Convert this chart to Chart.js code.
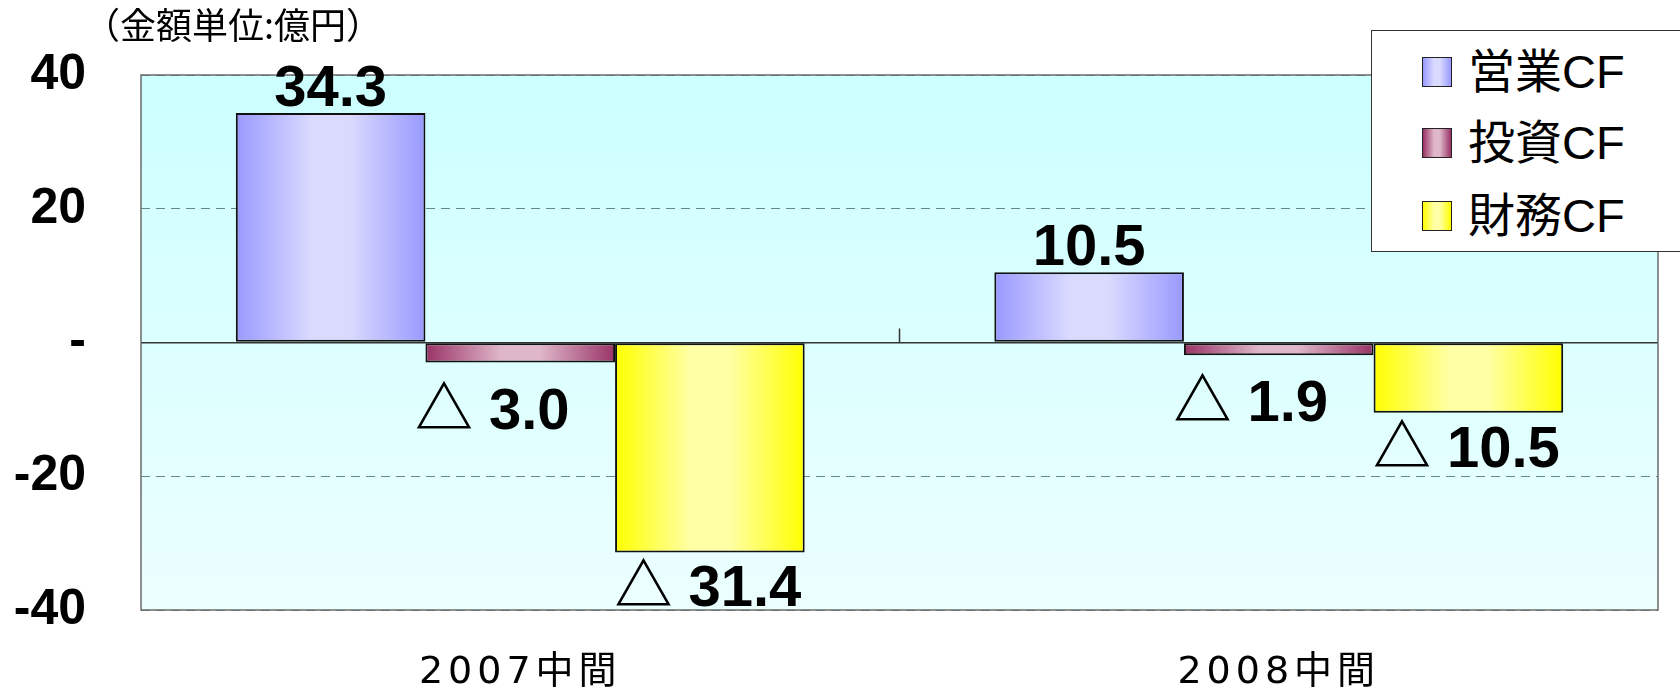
<!DOCTYPE html>
<html lang="ja">
<head>
<meta charset="utf-8">
<script src="https://cdn.jsdelivr.net/npm/chart.js@4.4.1/dist/chart.umd.min.js"></script>
<style>
  body { margin: 0; background: #fff; }
  #wrap { position: relative; width: 1680px; height: 691px; overflow: hidden; }
  #unit { position: absolute; left: 84px; top: 5px; font: 36px/1 'Noto Sans CJK JP', sans-serif; color: #000; white-space: nowrap; }
  #legend { position: absolute; left: 1371px; top: 30px; width: 340px; height: 222px; box-sizing: border-box;
            border: 1.5px solid #333; background: #fff; }
  .item { position: absolute; left: 50px; height: 44px; display: flex; align-items: center;
          font: 47px/1 'Liberation Sans', Arial, 'Noto Sans CJK JP', sans-serif; color: #000; white-space: nowrap; }
  .sw { width: 28px; height: 28px; border: 1.5px solid #222; margin-right: 16px; }
</style>
</head>
<body>
<div id="wrap">
  <canvas id="cfChart"></canvas>
  <div id="unit">（金額単位:億円）</div>
  <div id="legend"></div>
</div>
<script>
// data
const categories = ['2007中間', '2008中間'];
const seriesNames = ['営業CF', '投資CF', '財務CF'];
const operatingCF = [34.3, 10.5];
const investingCF = [-3.0, -1.9];
const financingCF = [-31.4, -10.5];
const yTicks = [40, 20, 0, -20, -40];

// styles
const edgeColors = ['#9999ff', '#993366', '#ffff00'];
const lightColors = ['#dadaff', '#dfb7ca', '#ffffa6'];
const CAT_PCT = 0.75;

// horizontal gradient over each bar, computed from the x scale
function barFill(di) {
  return (c) => {
    const chart = c.chart;
    const x = chart.scales.x;
    if (!x || c.dataIndex === undefined) return edgeColors[di];
    const catW = x.width / categories.length;
    const groupW = catW * CAT_PCT;
    const barW = groupW / 3;
    const left = x.getPixelForValue(c.dataIndex) - groupW / 2 + di * barW;
    if (!isFinite(left) || !isFinite(barW) || barW <= 0) return edgeColors[di];
    const g = chart.ctx.createLinearGradient(left, 0, left + barW, 0);
    g.addColorStop(0, edgeColors[di]);
    g.addColorStop(0.4, lightColors[di]);
    g.addColorStop(0.6, lightColors[di]);
    g.addColorStop(1, edgeColors[di]);
    return g;
  };
}

const plotDecor = {
  id: 'plotDecor',
  beforeDraw(chart) {
    const { ctx, chartArea: a } = chart;
    const g = ctx.createLinearGradient(0, a.top, 0, a.bottom);
    g.addColorStop(0, '#ccffff');
    g.addColorStop(1, '#ecffff');
    ctx.save();
    ctx.fillStyle = g;
    ctx.fillRect(a.left, a.top, a.width, a.height);
    ctx.restore();
    ctx.letterSpacing = '5px'; // spacing for the category labels
  },
  beforeDatasetsDraw(chart) {
    const { ctx, chartArea: a, scales: { x, y } } = chart;
    ctx.letterSpacing = '0px';
    ctx.save();
    ctx.strokeStyle = '#6b6b6b';
    ctx.lineWidth = 1.5;
    ctx.strokeRect(a.left, a.top, a.width, a.height);
    // small tick between the two categories on the zero line
    const bx = (x.getPixelForValue(0) + x.getPixelForValue(1)) / 2;
    const y0 = y.getPixelForValue(0);
    ctx.strokeStyle = '#333';
    ctx.beginPath();
    ctx.moveTo(bx, y0);
    ctx.lineTo(bx, y0 - 14);
    ctx.stroke();
    ctx.restore();
  }
};

const valueLabels = {
  id: 'valueLabels',
  afterDatasetsDraw(chart, args, opts) {
    const ctx = chart.ctx;
    ctx.save();
    ctx.letterSpacing = '0px';
    ctx.font = 'bold 58px "Liberation Sans", Arial, "Noto Sans CJK JP", sans-serif';
    ctx.fillStyle = '#000';
    ctx.textAlign = 'center';
    ctx.textBaseline = 'alphabetic';
    chart.data.datasets.forEach((ds, di) => {
      chart.getDatasetMeta(di).data.forEach((bar, i) => {
        const v = ds.data[i];
        if (v >= 0) {
          ctx.fillText(v.toFixed(1), bar.x + opts.dx[di], bar.y - 7);
        } else {
          ctx.fillText('△ ' + Math.abs(v).toFixed(1), bar.x + opts.dx[di], bar.y + opts.gap[di] + 41);
        }
      });
    });
    ctx.restore();
  }
};

const seriesData = [operatingCF, investingCF, financingCF];

const chart = new Chart(document.getElementById('cfChart'), {
  type: 'bar',
  data: {
    labels: categories,
    datasets: seriesData.map((d, di) => ({
      label: seriesNames[di],
      data: d,
      backgroundColor: barFill(di),
      borderColor: '#111',
      borderWidth: 2,
      borderSkipped: false,
      barPercentage: 1,
      categoryPercentage: CAT_PCT
    }))
  },
  options: {
    responsive: true,
    maintainAspectRatio: false,
    animation: false,
    events: [],
    layout: { padding: { top: 75, left: 14, right: 22, bottom: 1 } },
    plugins: {
      legend: { display: false },
      title: { display: false },
      tooltip: { enabled: false },
      valueLabels: { dx: [0, -28, -2], gap: [0, 25, 13] }
    },
    scales: {
      x: {
        grid: { display: false, drawTicks: false },
        border: { display: false },
        afterFit: (s) => { s.height = 80; s.paddingLeft = 0; s.paddingRight = 0; },
        ticks: {
          color: '#000',
          padding: 44,
          font: { family: "'DejaVu Sans', 'Noto Sans CJK JP', sans-serif", size: 38, lineHeight: 1 }
        }
      },
      y: {
        min: -40,
        max: 40,
        afterBuildTicks: (s) => { s.ticks = yTicks.map(v => ({ value: v })); },
        afterFit: (s) => { s.width = 127; s.paddingTop = 0; s.paddingBottom = 0; },
        grid: {
          drawTicks: false,
          color: (c) => c.tick && c.tick.value === 0 ? '#333' : '#668888',
          lineWidth: (c) => c.tick && c.tick.value === 0 ? 1.5 : 1
        },
        border: {
          display: false,
          dash: (c) => c.tick && c.tick.value !== 0 ? [9, 6] : []
        },
        ticks: {
          z: 1,
          color: '#000',
          padding: 55,
          font: { family: "'Liberation Sans', Arial, sans-serif", size: 50, weight: 'bold' },
          callback: (v) => v === 0 ? '-' : String(v)
        }
      }
    }
  },
  plugins: [plotDecor, valueLabels]
});
chart.update();

// legend box
const legend = document.getElementById('legend');
const rowTops = [18.5, 89.5, 162.5];
seriesNames.forEach((name, i) => {
  const item = document.createElement('div');
  item.className = 'item';
  item.style.top = rowTops[i] + 'px';
  const sw = document.createElement('span');
  sw.className = 'sw';
  sw.style.background = `linear-gradient(to right, ${edgeColors[i]}, ${lightColors[i]} 40%, ${lightColors[i]} 60%, ${edgeColors[i]})`;
  item.appendChild(sw);
  item.appendChild(document.createTextNode(name));
  legend.appendChild(item);
});
</script>
</body>
</html>
